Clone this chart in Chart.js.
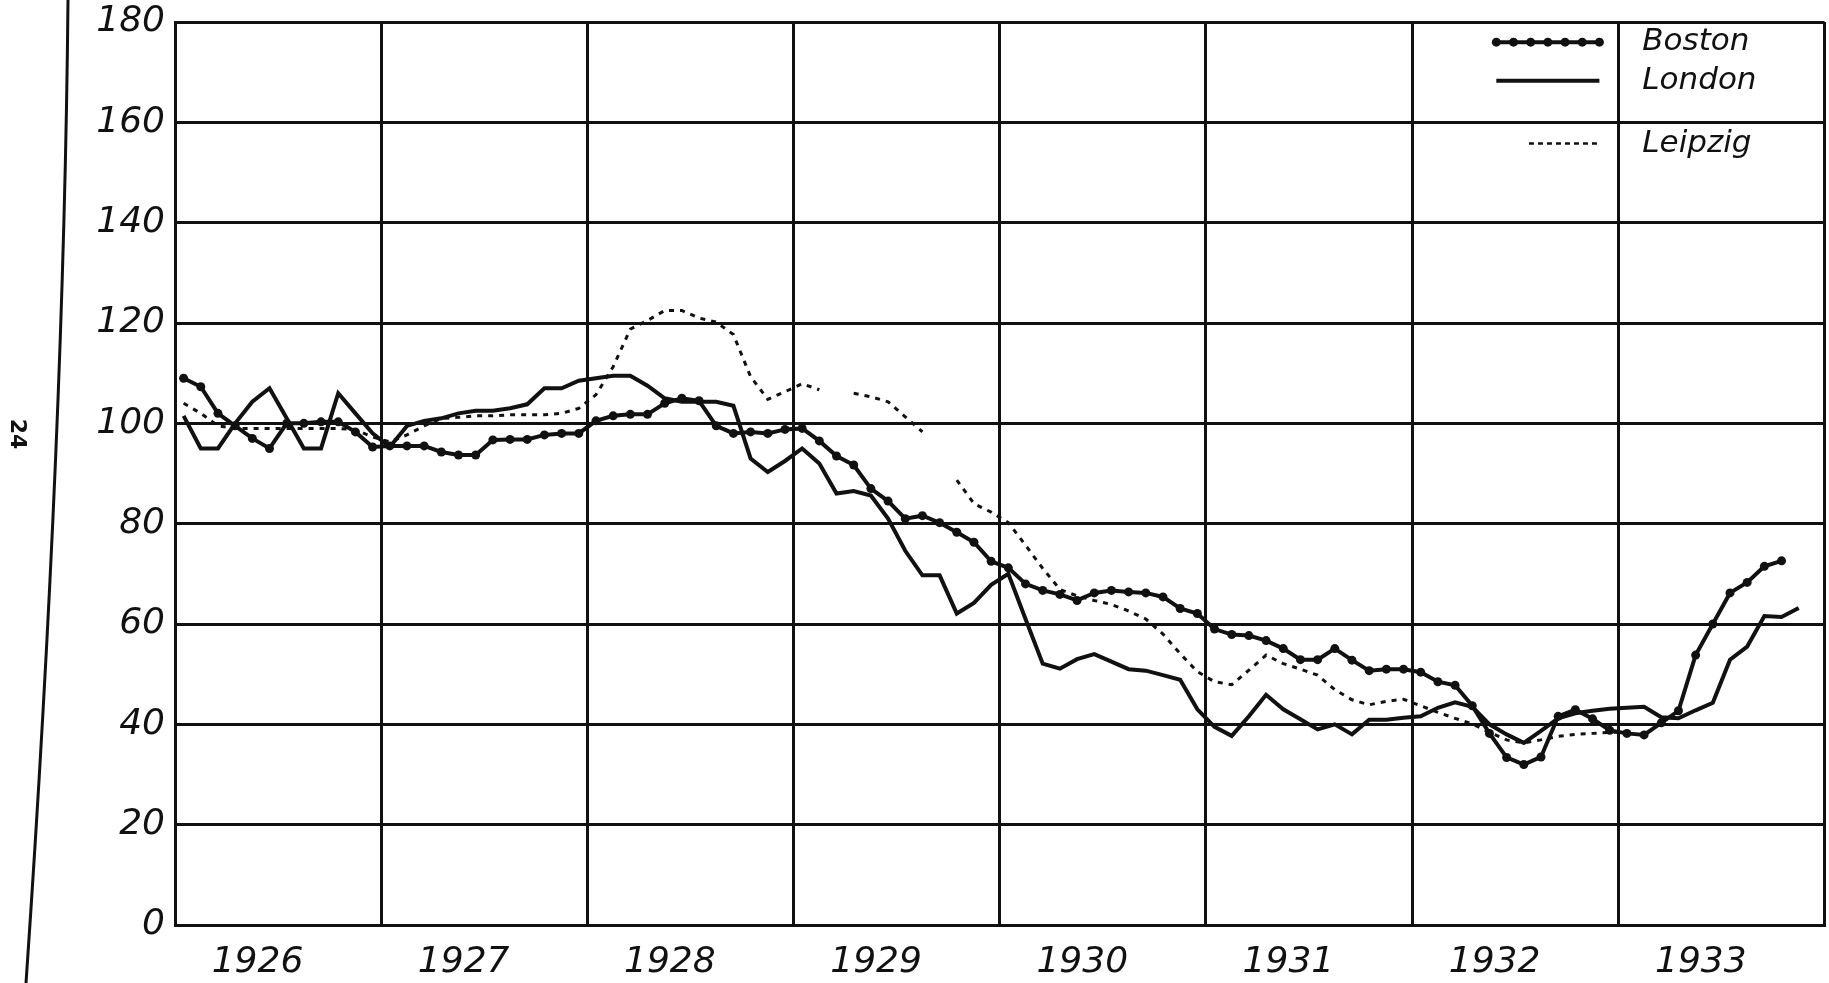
<!DOCTYPE html>
<html>
<head>
<meta charset="utf-8">
<script src="https://cdn.jsdelivr.net/npm/chart.js@4.4.1/dist/chart.umd.min.js"></script>
<style>
  html, body { margin: 0; padding: 0; background: #ffffff; }
  #wrap { width: 1829px; height: 983px; position: relative; }
</style>
</head>
<body>
<div id="wrap"><canvas id="c" width="1829" height="983"></canvas></div>
<script>
// ---- data (monthly, Jan 1926 .. Dec 1933) ----
const years = ['1926', '1927', '1928', '1929', '1930', '1931', '1932', '1933'];
const yTickValues = [0, 20, 40, 60, 80, 100, 120, 140, 160, 180];
const seriesNames = ['Boston', 'London', 'Leipzig'];

const boston = [
  109, 107.3, 102, 99.5, 97, 95, 100, 100, 100.3, 100.3, 98.3, 95.3,
  95.5, 95.5, 95.5, 94.3, 93.7, 93.7, 96.7, 96.8, 96.8, 97.7, 98, 98,
  100.5, 101.5, 101.8, 101.8, 104, 105, 104.5, 99.5, 98, 98.3, 98, 98.8,
  99, 96.5, 93.5, 91.7, 87, 84.5, 81, 81.6, 80.2, 78.3, 76.3, 72.5,
  71.2, 68, 66.7, 65.9, 64.7, 66.2, 66.7, 66.4, 66.2, 65.4, 63.1, 62.1,
  59, 57.9, 57.7, 56.7, 55.1, 52.9, 52.9, 55.1, 52.8, 50.7, 51, 51,
  50.4, 48.5, 47.8, 43.7, 38.2, 33.4, 32, 33.5, 41.6, 42.9, 41.1, 38.8,
  38.2, 37.9, 40.3, 42.7, 53.8, 60, 66.2, 68.3, 71.5, 72.6, null, null
];

const london = [
  101.5, 95, 95, 100, 104.3, 107, 101, 95, 95, 106, 102, 98,
  95.3, 99.5, 100.5, 101, 102, 102.5, 102.5, 103, 103.8, 107, 107, 108.5,
  109, 109.5, 109.5, 107.5, 105, 104.3, 104.3, 104.3, 103.5, 93, 90.3, 92.5,
  95, 92, 86, 86.5, 85.6, 81, 74.6, 69.7, 69.7, 62.1, 64.2, 67.8,
  70, 61, 52.1, 51.1, 53, 54, 52.5, 51, 50.7, 49.8, 48.9, 43,
  39.5, 37.7, 41.6, 45.9, 43, 41, 39, 40, 38, 40.9, 40.9, 41.3,
  41.6, 43.3, 44.4, 43.5, 40, 38, 36.3, 38.7, 41.2, 42.2, 42.7, 43.1,
  43.3, 43.5, 41.4, 41.2, 42.8, 44.3, 52.9, 55.5, 61.6, 61.4, 63.2, null
];

const leipzig = [
  104, 102, 99.5, 99, 99, 99, 99, 99, 99, 99, 98.7, 97.3,
  96.3, 97.7, 99.5, 101, 101.2, 101.5, 101.5, 101.7, 101.7, 101.7, 102, 103,
  105.7, 111.3, 118.8, 120.5, 122.5, 122.5, 121, 120.2, 117.7, 109.3, 104.8, 106.3,
  107.9, 106.7, null, 106, 105.3, 104.3, 101.3, 98.3, null, 88.7, 84, 82.3,
  80.2, 75.7, 71.1, 66.9, 65.6, 64.7, 63.9, 62.6, 61, 58, 54.1, 50.5,
  48.5, 47.9, 50.8, 53.8, 52.1, 51, 49.8, 46.9, 44.9, 43.9, 44.6, 45,
  43.7, 42.4, 41.2, 40.1, 38.4, 36.9, 36.3, 36.9, 37.6, 38, 38.2, 38.4,
  38.4, null, null, null, null, null, null, null, null, null, null, null
];

// ---- helpers ----
const INK = '#111111';
const FONT = "'DejaVu Sans', 'Liberation Sans', sans-serif";
const MONTHS_PER_YEAR = 12;
const LABEL_SHIFT = 4.8; // year label position inside each year column (in months)

const yearGridValues = years.map((_, i) => i * MONTHS_PER_YEAR).concat([years.length * MONTHS_PER_YEAR]);
const yearLabelValues = years.map((_, i) => i * MONTHS_PER_YEAR + LABEL_SHIFT);
const xTickValues = yearGridValues.concat(yearLabelValues).sort((a, b) => a - b);

function isGrid(v) { return Math.abs(v / 12 - Math.round(v / 12)) < 1e-6; }
function toPoints(arr) { return arr.map((v, i) => ({ x: i + 0.5, y: v })); }

// decorative plugin: legend text/samples, page edge & page number
const decor = {
  id: 'decor',
  afterDraw(chart) {
    const ctx = chart.ctx;
    const xs = chart.scales.x, ys = chart.scales.y;
    ctx.save();
    ctx.strokeStyle = INK; ctx.fillStyle = INK;

    const divX = xs.getPixelForValue(84);
    const sx0 = xs.getPixelForValue(76.9), sx1 = xs.getPixelForValue(82.9);
    const sxL = xs.getPixelForValue(78.8);
    const yB = ys.getPixelForValue(176), yLo = ys.getPixelForValue(168.3), yLe = ys.getPixelForValue(155.8);

    ctx.lineWidth = 4; ctx.setLineDash([]);
    ctx.beginPath(); ctx.moveTo(sx0, yB); ctx.lineTo(sx1, yB); ctx.stroke();
    for (let k = 0; k < 7; k++) {
      const px = sx0 + (sx1 - sx0) * k / 6;
      ctx.beginPath(); ctx.arc(px, yB, 4.5, 0, Math.PI * 2); ctx.fill();
    }
    ctx.lineWidth = 4;
    ctx.beginPath(); ctx.moveTo(sx0, yLo); ctx.lineTo(sx1, yLo); ctx.stroke();
    ctx.lineWidth = 2.5; ctx.setLineDash([5, 4]);
    ctx.beginPath(); ctx.moveTo(sxL, yLe); ctx.lineTo(sx1, yLe); ctx.stroke();
    ctx.setLineDash([]);

    ctx.font = "italic 31px " + FONT;
    ctx.textBaseline = 'middle'; ctx.textAlign = 'left';
    ctx.fillText(seriesNames[0], divX + 24, yB);
    ctx.fillText(seriesNames[1], divX + 24, yLo);
    ctx.fillText(seriesNames[2], divX + 24, yLe);

    // page edge (scan border) and page number
    ctx.lineWidth = 3;
    ctx.beginPath();
    ctx.moveTo(68, 0);
    ctx.quadraticCurveTo(64, 430, 26, 983);
    ctx.stroke();
    ctx.translate(17, 434);
    ctx.rotate(Math.PI / 2);
    ctx.font = "bold 22px " + FONT;
    ctx.textAlign = 'center';
    ctx.fillText('24', 0, 0);
    ctx.restore();
  }
};

new Chart(document.getElementById('c'), {
  type: 'line',
  data: {
    datasets: [
      {
        label: seriesNames[0], data: toPoints(boston),
        borderColor: INK, backgroundColor: INK, borderWidth: 4,
        pointRadius: 4.5, pointBackgroundColor: INK, pointBorderWidth: 0,
        tension: 0, spanGaps: false, order: 1
      },
      {
        label: seriesNames[1], data: toPoints(london),
        borderColor: INK, borderWidth: 4, pointRadius: 0,
        tension: 0, spanGaps: false, order: 2
      },
      {
        label: seriesNames[2], data: toPoints(leipzig),
        borderColor: INK, borderWidth: 3, borderDash: [5, 6], pointRadius: 0,
        tension: 0, spanGaps: false, order: 3
      }
    ]
  },
  options: {
    responsive: false,
    animation: false,
    devicePixelRatio: 1,
    layout: { padding: { top: 0, left: 0, right: 0, bottom: 0 } },
    plugins: { legend: { display: false }, tooltip: { enabled: false } },
    scales: {
      x: {
        type: 'linear', min: 0, max: 96,
        afterBuildTicks: (s) => { s.ticks = xTickValues.map(v => ({ value: v })); },
        afterFit: (s) => { s.height = 58; },
        ticks: {
          autoSkip: false, maxRotation: 0, minRotation: 0, padding: 0, color: INK,
          font: { family: FONT, size: 36, style: 'italic', lineHeight: 2.1 },
          callback: (v) => isGrid(v) ? '' : years[Math.floor(v / 12)]
        },
        grid: {
          drawTicks: false, lineWidth: 3,
          color: (c) => (c.tick && isGrid(c.tick.value)) ? INK : 'rgba(0,0,0,0)'
        },
        border: { display: true, color: INK, width: 3 }
      },
      y: {
        min: 0, max: 180,
        afterBuildTicks: (s) => { s.ticks = yTickValues.map(v => ({ value: v })); },
        afterFit: (s) => { s.width = 175; },
        ticks: {
          padding: 10, color: INK,
          font: { family: FONT, size: 36, style: 'italic', lineHeight: 0.67 }
        },
        grid: { drawTicks: false, lineWidth: 3, color: INK },
        border: { display: true, color: INK, width: 3 }
      }
    }
  },
  plugins: [decor]
});
</script>
</body>
</html>
